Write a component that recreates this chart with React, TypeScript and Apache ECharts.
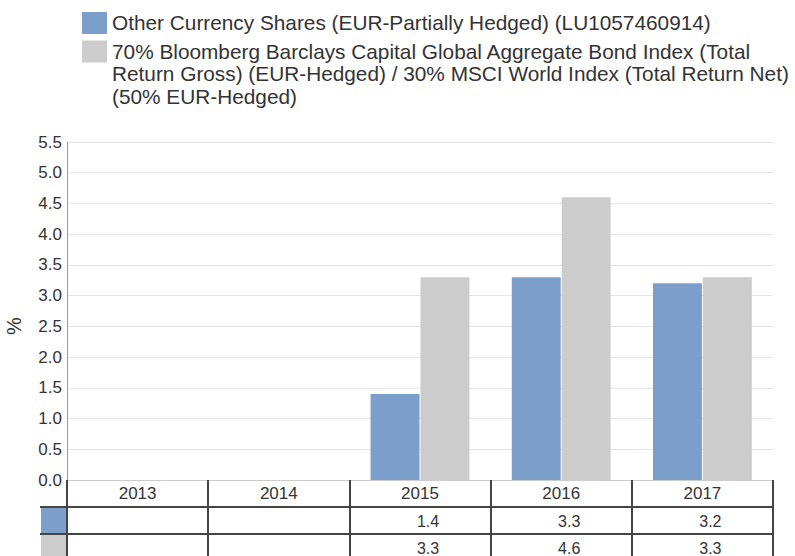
import React, { useEffect, useRef } from "react";
import * as echarts from "echarts";

const categories = ["2013", "2014", "2015", "2016", "2017"];
const fundValues: (number | null)[] = [null, null, 1.4, 3.3, 3.2];
const benchValues: (number | null)[] = [null, null, 3.3, 4.6, 3.3];
const seriesNames = [
  "Other Currency Shares (EUR-Partially Hedged) (LU1057460914)",
  "70% Bloomberg Barclays Capital Global Aggregate Bond Index (Total Return Gross) (EUR-Hedged) / 30% MSCI World Index (Total Return Net) (50% EUR-Hedged)",
];
const legendLines = [
  [seriesNames[0]],
  [
    "70% Bloomberg Barclays Capital Global Aggregate Bond Index (Total",
    "Return Gross) (EUR-Hedged) / 30% MSCI World Index (Total Return Net)",
    "(50% EUR-Hedged)",
  ],
];
const colors = ["#7b9fca", "#cccccc"];

const FONT = '"Liberation Sans", Arial, Helvetica, sans-serif';
const TEXT = "#333333";
const LINE = "#444444";
const GRID_LEFT = 67;
const GRID_RIGHT = 22;
const GRID_TOP = 142;
const GRID_BOTTOM = 76;
const ROW_H = 27;

const fmt = (v: number | null) => (v == null ? "" : v.toFixed(1));

export default function App() {
  const ref = useRef<HTMLDivElement>(null);
  useEffect(() => {
    if (!ref.current) return;
    const chart = echarts.init(ref.current, undefined, { renderer: "svg" });
    const axisBottomY = 556 - GRID_BOTTOM;
    const legendGraphics: any[] = [];
    let top = 12;
    legendLines.forEach((lines, i) => {
      legendGraphics.push({
        type: "rect",
        shape: { x: 82, y: top, width: 25, height: 22 },
        style: { fill: colors[i] },
      });
      legendGraphics.push({
        type: "text",
        x: 112,
        y: top - 0.5,
        style: {
          text: lines.join("\n"),
          font: `20.8px ${FONT}`,
          fill: TEXT,
          lineHeight: 22.5,
          verticalAlign: "top",
        },
      });
      top += lines.length * 22.5 + 6;
    });
    const tableGraphics: any[] = [
      {
        type: "rect",
        shape: { x: 41, y: axisBottomY + ROW_H, width: GRID_LEFT - 41, height: ROW_H - 1 },
        style: { fill: colors[0] },
      },
      {
        type: "rect",
        shape: { x: 41, y: axisBottomY + 2 * ROW_H + 1, width: GRID_LEFT - 41, height: ROW_H },
        style: { fill: colors[1] },
      },
      {
        type: "line",
        shape: { x1: 40, y1: axisBottomY + ROW_H, x2: GRID_LEFT, y2: axisBottomY + ROW_H },
        style: { stroke: LINE, lineWidth: 2 },
      },
      {
        type: "line",
        shape: { x1: 40, y1: axisBottomY + 2 * ROW_H, x2: GRID_LEFT, y2: axisBottomY + 2 * ROW_H },
        style: { stroke: LINE, lineWidth: 2 },
      },
    ];

    const valueAxisLabel = (vals: (number | null)[]) => ({
      color: TEXT,
      fontSize: 16,
      margin: 6,
      fontFamily: FONT,
      interval: 0,
      padding: [0, 0, 0, 16],
      formatter: (_v: string, idx: number) => fmt(vals[idx]),
    });

    chart.setOption({
      animation: false,
      textStyle: { fontFamily: FONT },
      grid: {
        left: GRID_LEFT,
        right: GRID_RIGHT,
        top: GRID_TOP,
        bottom: GRID_BOTTOM,
        containLabel: false,
        outerBoundsMode: "none",
      },
      xAxis: [
        {
          type: "category",
          data: categories,
          position: "bottom",
          axisLine: { show: true, lineStyle: { color: "#cccccc", width: 1 } },
          axisTick: { show: true, interval: 0, length: 76, lineStyle: { color: LINE, width: 2 } },
          axisLabel: { color: TEXT, fontSize: 17, margin: 5, fontFamily: FONT },
        },
        {
          type: "category",
          data: categories,
          position: "bottom",
          offset: ROW_H,
          axisLine: { show: true, lineStyle: { color: LINE, width: 2 } },
          axisTick: { show: false },
          axisLabel: valueAxisLabel(fundValues),
        },
        {
          type: "category",
          data: categories,
          position: "bottom",
          offset: 2 * ROW_H,
          axisLine: { show: true, lineStyle: { color: LINE, width: 2 } },
          axisTick: { show: false },
          axisLabel: valueAxisLabel(benchValues),
        },
      ],
      yAxis: {
        type: "value",
        min: 0,
        max: 5.5,
        interval: 0.5,
        name: "%",
        nameLocation: "middle",
        nameGap: 43,
        nameRotate: 90,
        nameTextStyle: { fontSize: 20, color: TEXT, fontFamily: FONT, padding: [0, 30, 0, 0] },
        axisLine: { show: true, lineStyle: { color: "#999999" } },
        axisTick: { show: false },
        axisLabel: { color: TEXT, fontSize: 17, margin: 5, formatter: (v: number) => v.toFixed(1), fontFamily: FONT },
        splitLine: { show: true, lineStyle: { color: "#e6e6e6", width: 1 } },
      },
      series: [
        {
          name: seriesNames[0],
          type: "bar",
          data: fundValues,
          itemStyle: { color: colors[0] },
          barGap: "2%",
          barCategoryGap: "30%",
          xAxisIndex: 0,
        },
        {
          name: seriesNames[1],
          type: "bar",
          data: benchValues,
          itemStyle: { color: colors[1] },
          barGap: "2%",
          barCategoryGap: "30%",
          xAxisIndex: 0,
        },
      ],
      graphic: [...legendGraphics, ...tableGraphics],
    });
    return () => chart.dispose();
  }, []);
  return <div ref={ref} style={{ width: 795, height: 556, position: "absolute", left: 0, top: 0 }} />;
}
